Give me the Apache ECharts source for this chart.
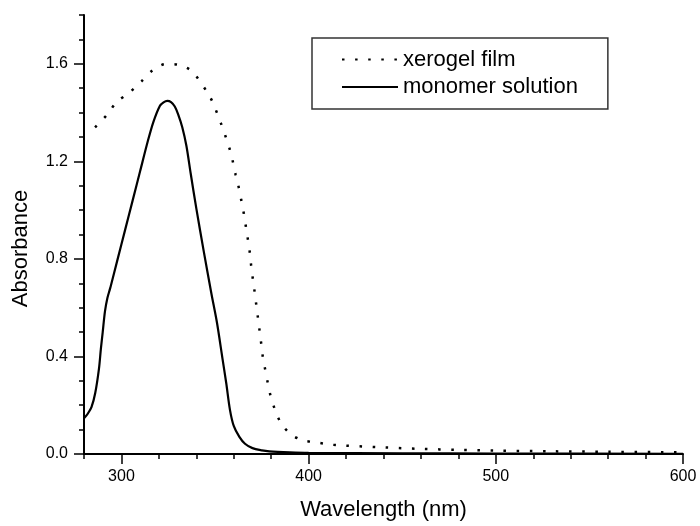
<!DOCTYPE html>
<html>
<head>
<meta charset="utf-8">
<script src="https://cdn.jsdelivr.net/npm/echarts@6.0.0/dist/echarts.min.js"></script>
<style>
  html, body { margin: 0; padding: 0; background: #fff; }
  #main { width: 700px; height: 526px; }
</style>
</head>
<body>
<div id="main"></div>
<script>
// monomer solution (solid line)
var monoWl = [280, 282, 284, 286, 288, 289, 290, 291.2, 292.5, 294, 298, 302, 306, 310,
  314, 317, 320.5, 322.5, 324.5, 326.5, 328.5, 330.3, 332.5, 334.7, 337, 340, 344, 348, 351,
  354, 356, 358, 360, 363, 366, 370, 375, 379, 390, 400, 450, 500, 600];
var monoAbs = [0.146, 0.165, 0.192, 0.25, 0.35, 0.43, 0.5, 0.585, 0.64, 0.68, 0.8, 0.92, 1.04, 1.16,
  1.28, 1.36, 1.427, 1.442, 1.448, 1.443, 1.425, 1.393, 1.34, 1.264, 1.15, 1.007, 0.83, 0.66, 0.54,
  0.39, 0.29, 0.18, 0.115, 0.07, 0.042, 0.024, 0.015, 0.011, 0.007, 0.005, 0.003, 0.002, 0.001];

// xerogel film (dotted line)
var xeroWl = [285.9, 292.1, 297.4, 304.1, 310.7, 316.6, 323.7, 330.8, 337.7, 347.1, 350.3, 353, 355.5,
  357.8, 359.5, 361, 362.7, 364, 365.4, 366.5, 367.6, 368.6, 369.3, 370.2, 371.1, 372, 372.9, 373.8,
  374.7, 375.5, 376.8, 378.2, 379.6, 381.8, 384.8, 390.1, 396.8, 404, 411.1, 418.1, 440, 460, 480,
  500, 530, 560, 600];
var xeroAbs = [1.339, 1.389, 1.443, 1.481, 1.528, 1.573, 1.599, 1.595, 1.569, 1.467, 1.413, 1.359, 1.305,
  1.251, 1.199, 1.145, 1.092, 1.041, 0.985, 0.931, 0.878, 0.825, 0.772, 0.718, 0.668, 0.614, 0.56, 0.506,
  0.451, 0.4, 0.346, 0.291, 0.241, 0.187, 0.133, 0.083, 0.056, 0.048, 0.039, 0.035, 0.027, 0.021, 0.017,
  0.014, 0.011, 0.009, 0.007];

var xMajor = [300, 400, 500, 600];
var yMajor = [0, 0.4, 0.8, 1.2, 1.6];

function pairs(xs, ys) {
  return xs.map(function (x, i) { return [x, ys[i]]; });
}

var font = 'Liberation Sans, Arial, sans-serif';
var black = '#000';

var chart = echarts.init(document.getElementById('main'), null, { renderer: 'canvas' });

var option = {
  animation: false,
  backgroundColor: '#fff',
  textStyle: { fontFamily: font, color: black },
  grid: { left: 84, right: 17, top: 15, bottom: 68, containLabel: false },
  legend: {
    orient: 'vertical',
    left: 312,
    top: 38,
    padding: [10.5, 30, 11, 29],
    itemWidth: 56,
    itemHeight: 14,
    itemGap: 5.4,
    borderColor: '#333',
    borderWidth: 1.5,
    // hide the marker the line legend icon draws in its middle
    itemStyle: { color: 'rgba(0,0,0,0)', borderColor: 'rgba(0,0,0,0)', borderWidth: 0 },
    textStyle: { fontSize: 22, color: black, fontFamily: font },
    data: ['xerogel film', 'monomer solution']
  },
  xAxis: [
    {
      type: 'value', position: 'bottom', min: 280, max: 600, interval: 20,
      axisLine: { show: true, onZero: false, lineStyle: { color: black, width: 2 } },
      axisTick: { show: true, length: 5, lineStyle: { color: black, width: 1.5 } },
      axisLabel: { show: false },
      splitLine: { show: false }
    },
    {
      type: 'value', position: 'bottom', min: 280, max: 600,
      axisLine: { show: false, onZero: false },
      axisTick: { show: true, customValues: xMajor, length: 10, lineStyle: { color: black, width: 1.5 } },
      axisLabel: { show: true, customValues: xMajor, fontSize: 16, color: black, fontFamily: font, margin: 15 },
      splitLine: { show: false },
      name: 'Wavelength (nm)',
      nameLocation: 'middle',
      nameGap: 45,
      nameTextStyle: { fontSize: 22, color: black, fontFamily: font }
    }
  ],
  yAxis: [
    {
      type: 'value', position: 'left', min: 0, max: 1.8, interval: 0.1,
      axisLine: { show: true, onZero: false, lineStyle: { color: black, width: 2 } },
      axisTick: { show: true, length: 5, lineStyle: { color: black, width: 1.5 } },
      axisLabel: { show: false },
      splitLine: { show: false }
    },
    {
      type: 'value', position: 'left', min: 0, max: 1.8,
      axisLine: { show: false, onZero: false },
      axisTick: { show: true, customValues: yMajor, length: 10, lineStyle: { color: black, width: 1.5 } },
      axisLabel: {
        show: true, customValues: yMajor, fontSize: 16, color: black, fontFamily: font, margin: 16,
        formatter: function (v) { return Number(v).toFixed(1); }
      },
      splitLine: { show: false },
      name: 'Absorbance',
      nameLocation: 'middle',
      nameGap: 52,
      nameTextStyle: { fontSize: 22, color: black, fontFamily: font, padding: [0, 28, 0, 0] }
    }
  ],
  series: [
    {
      name: 'xerogel film',
      type: 'line',
      xAxisIndex: 0,
      yAxisIndex: 0,
      symbol: 'none',
      showSymbol: false,
      smooth: 0.3,
      color: black,
      lineStyle: { color: black, width: 2.5, type: [2.5, 10.6], cap: 'butt' },
      data: pairs(xeroWl, xeroAbs)
    },
    {
      name: 'monomer solution',
      type: 'line',
      xAxisIndex: 0,
      yAxisIndex: 0,
      symbol: 'none',
      showSymbol: false,
      smooth: 0.3,
      color: black,
      lineStyle: { color: black, width: 2.2, type: 'solid' },
      data: pairs(monoWl, monoAbs)
    }
  ]
};

chart.setOption(option);
</script>
</body>
</html>
